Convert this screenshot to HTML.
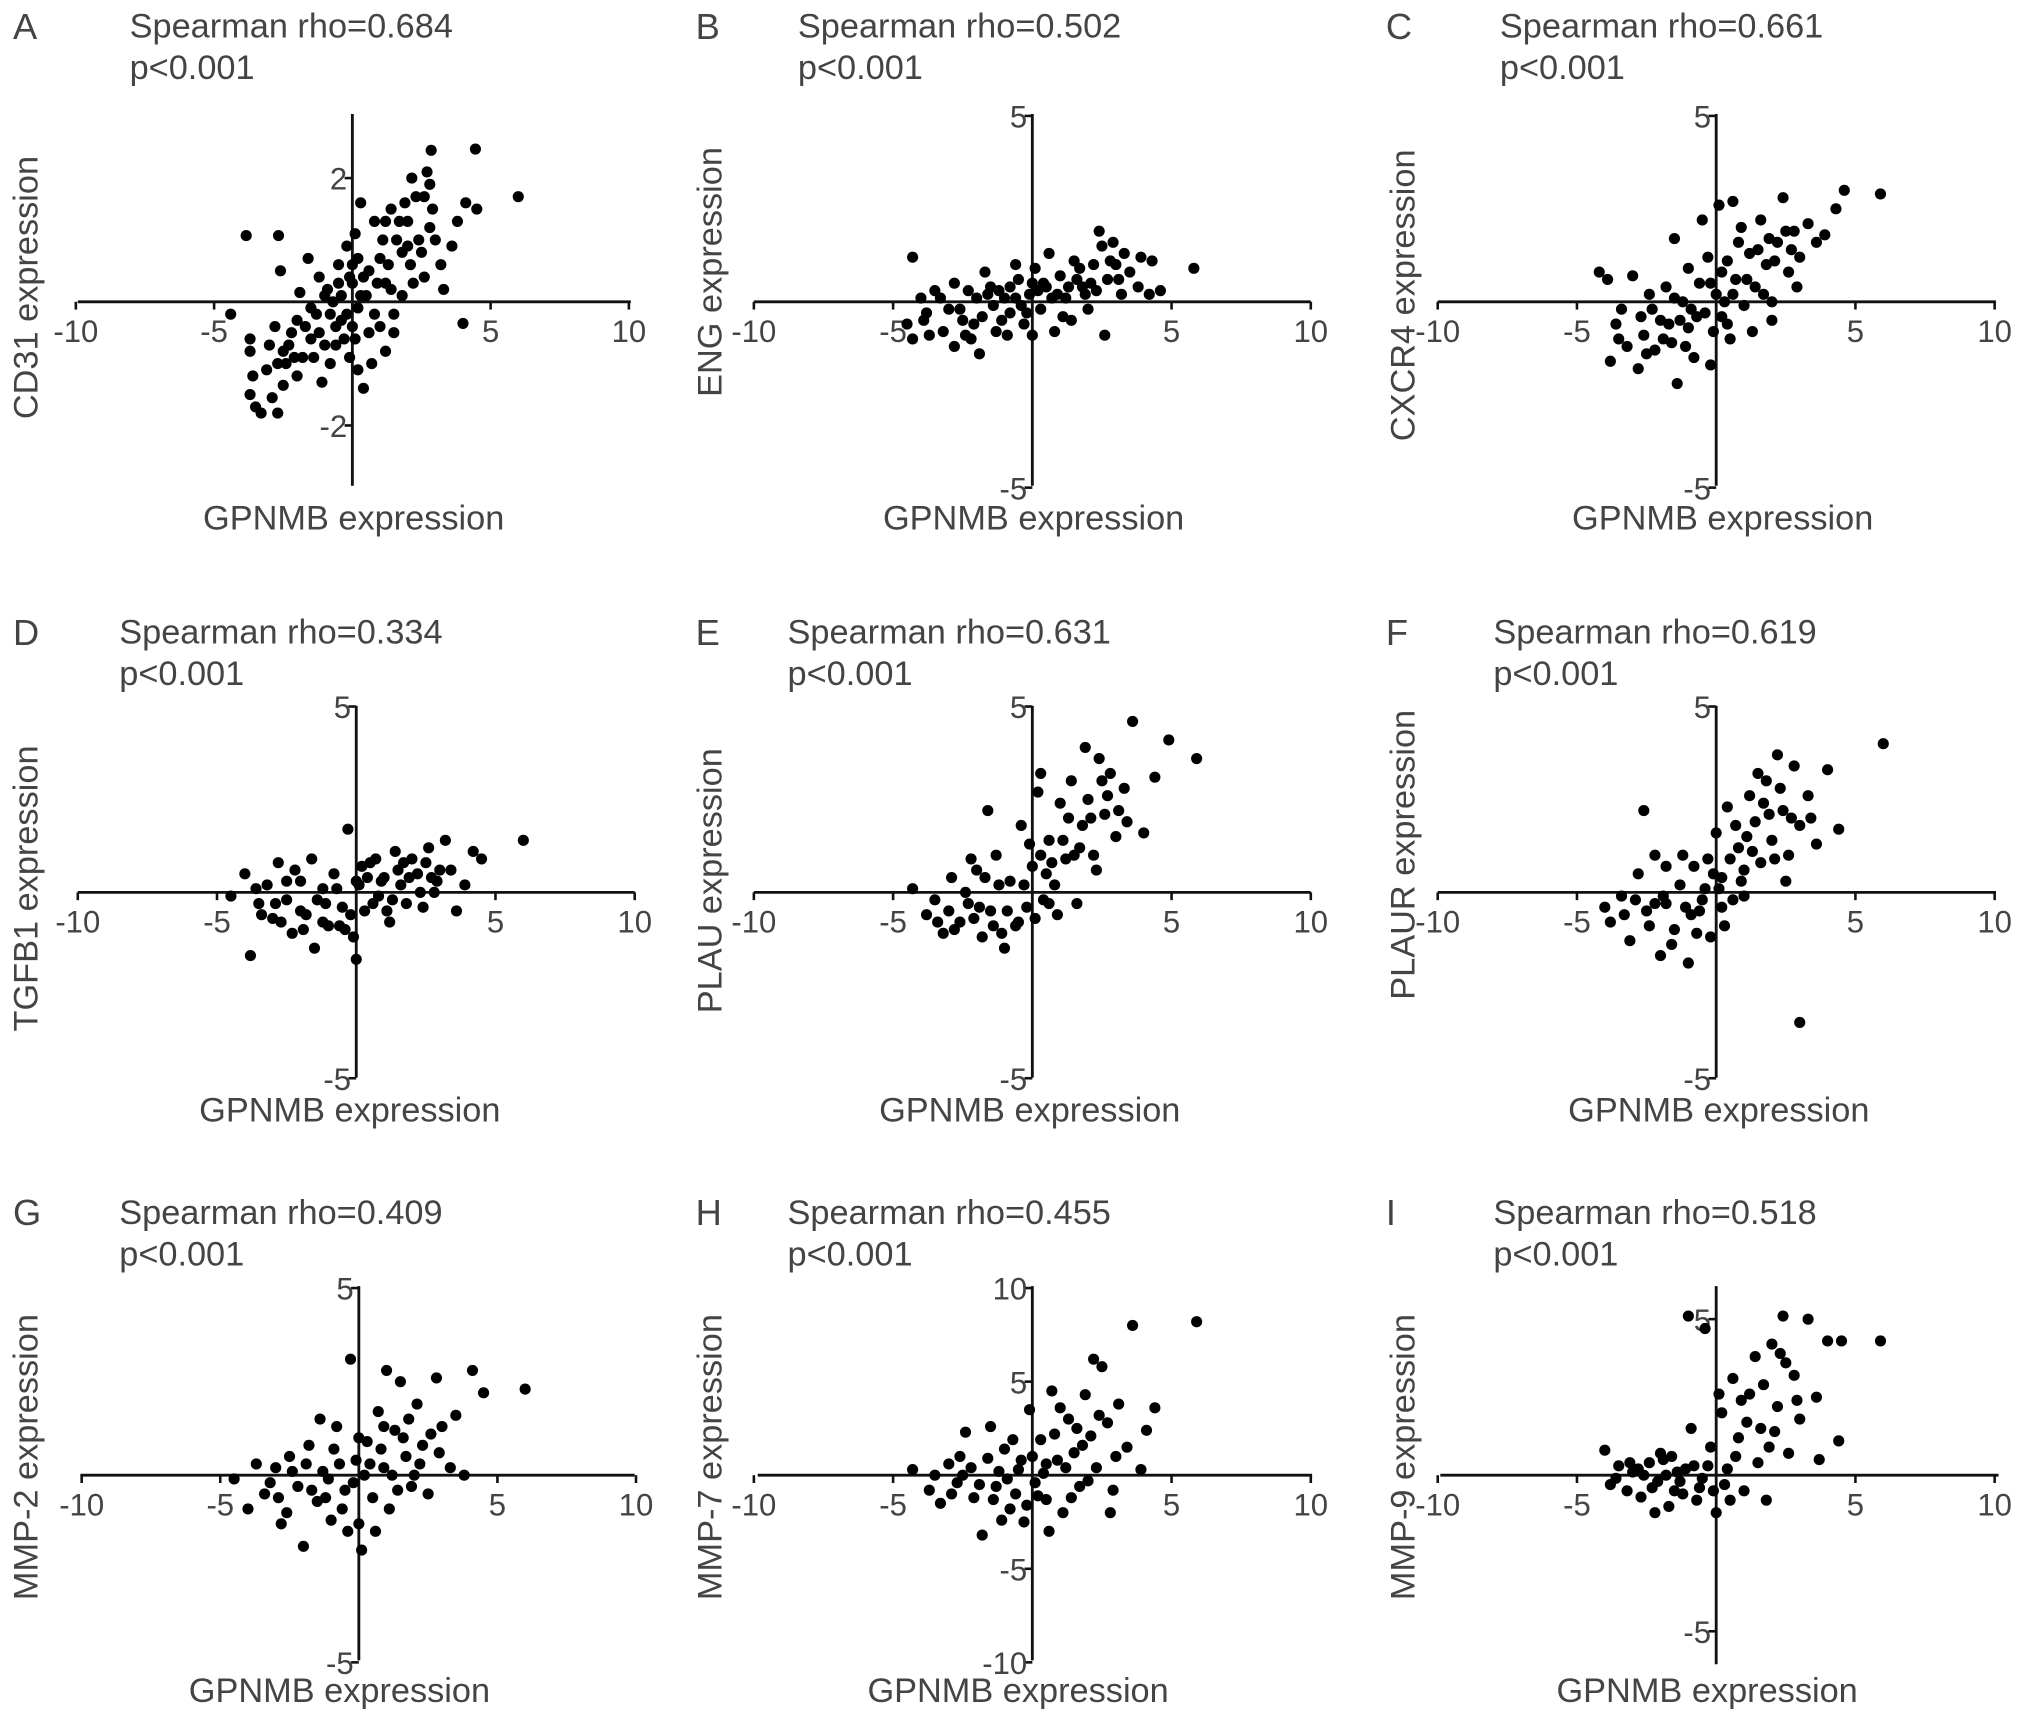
<!DOCTYPE html>
<html><head><meta charset="utf-8"><style>
html,body{margin:0;padding:0;background:#fff;}
svg{display:block;}
text{font-family:"Liberation Sans",sans-serif;fill:#444;}
</style></head><body>
<svg id="fig" width="2031" height="1720" viewBox="0 0 1568 1328" xmlns="http://www.w3.org/2000/svg"></svg>
<script>
const aPoints=[[-4.4,-0.2],[-3.84,1.07],[-2.67,1.07],[4.45,2.47],[6.0,1.7],[2.15,2.0],[2.85,2.45],[4.0,-0.35],[-3.7,-0.6],[-3.7,-0.8],[-3.6,-1.2],[-3.7,-1.5],[-3.5,-1.7],[-3.3,-1.8],[-2.7,-1.8],[-2.9,-1.55],[-2.5,-1.35],[-2.4,-1.0],[-3.0,-0.7],[-2.8,-0.4],[-2.5,-0.8],[-2.2,-0.5],[-2.0,-0.3],[-1.8,-0.9],[-1.5,-0.6],[-1.3,-0.2],[-1.0,-0.7],[-0.8,-1.0],[-0.6,-0.4],[-0.4,0.1],[-0.2,-0.2],[0,0.3],[0.2,-0.1],[0.4,0.4],[-1.6,0.7],[-1.2,0.4],[-0.9,0.2],[-2.6,0.5],[-1.9,0.15],[-0.5,0.6],[-0.2,0.9],[0.1,1.1],[0.3,1.6],[0.2,0.7],[0.6,-0.5],[0.7,-1.0],[0.4,-1.4],[1.2,-0.8],[1.0,-0.4],[1.5,-0.2],[1.8,0.1],[2.2,0.3],[2.6,0.4],[1.3,0.6],[1.8,0.8],[1.1,1.0],[1.6,1.0],[2.0,1.3],[2.4,1.0],[1.9,1.6],[2.6,1.7],[2.8,1.9],[2.9,1.5],[3.2,0.6],[3.0,1.0],[2.5,0.8],[1.4,1.5],[0.8,1.3],[3.8,1.3],[4.1,1.6],[4.5,1.5],[3.6,0.9],[0.5,0.1],[-0.3,-0.6],[-1.1,-1.3],[0.9,0.3],[1.5,-0.5],[3.3,0.2],[-0.7,0.0],[0.0,-0.4],[-1.5,-0.1],[-2.1,-0.9],[-0.1,0.4],[0.3,0.1],[-0.4,-0.3],[0.1,-0.6],[-0.8,-0.2],[-1.2,-0.5],[-1.7,-0.4],[-2.3,-0.7],[-2.7,-1.0],[-3.1,-1.1],[-0.5,0.3],[0.6,0.5],[1.0,0.7],[1.4,0.2],[2.1,0.6],[2.3,1.7],[2.7,2.1],[1.7,1.3],[-0.1,-0.9],[0.2,-1.1],[-1.4,-0.9],[-2.0,-1.2],[0.8,-0.2],[1.2,0.3],[-0.6,-0.7],[0.0,0.6],[-1.0,0.1],[2.0,0.9],[2.8,1.2],[1.2,1.3]];
const bPoints=[[-4.5,-0.6],[-4.0,0.1],[-4.3,-1.0],[-3.8,-0.3],[-3.5,0.3],[-3.2,-0.8],[-3.0,-0.2],[-2.8,0.5],[-2.5,-0.5],[-2.2,-1.0],[-2.0,0.1],[-1.8,-0.4],[-1.5,0.4],[-1.3,-0.8],[-1.0,0.1],[-0.8,-0.3],[-0.5,0.6],[-0.3,-0.6],[-0.1,0.2],[0.1,0.9],[0.3,-0.2],[0.5,0.4],[0.8,-0.8],[1.0,0.7],[1.2,0.1],[1.5,1.1],[1.8,0.4],[2.0,-0.2],[2.2,1.0],[2.5,1.5],[2.7,0.6],[3.0,1.0],[3.2,0.2],[3.5,0.8],[4.3,1.1],[4.2,0.2],[5.8,0.9],[2.4,1.9],[3.8,0.4],[2.6,-0.9],[1.4,-0.5],[0.6,1.3],[-0.6,1.0],[-1.7,0.8],[-4.3,1.2],[-2.8,-1.2],[-1.9,-1.4],[-3.7,-0.9],[0.0,-0.9],[1.7,0.9],[2.9,1.6],[3.3,1.3],[1.1,-0.4],[-0.8,0.4],[0.4,0.5],[-2.3,0.3],[-1.1,-0.5],[2.1,0.5],[4.6,0.3],[3.9,1.2],[-0.4,-0.1],[0.7,0.1],[-2.6,-0.2],[-1.4,-0.1],[-0.2,-0.3],[0.2,0.3],[1.3,0.4],[1.9,0.2],[-3.3,0.1],[-2.1,-0.6],[-0.9,-0.9],[0.9,0.2],[2.3,0.3],[3.1,0.6],[-1.6,0.2],[-0.6,0.1],[0.0,0.5],[1.6,0.6],[2.8,1.1],[-3.9,-0.5],[-2.4,-0.9],[-1.2,0.3]];
const cPoints=[[-4.2,0.8],[-3.9,0.6],[-3.8,-1.6],[-3.6,-0.6],[-3.4,-0.2],[-3.0,0.7],[-2.8,-1.8],[-2.6,-0.9],[-2.4,0.2],[-2.2,-1.3],[-2.0,-0.5],[-1.8,0.4],[-1.6,-1.1],[-1.4,-2.2],[-1.2,0.0],[-1.0,-0.7],[-0.8,-1.5],[-0.6,0.5],[-0.4,-0.3],[-0.2,-1.7],[0.0,0.2],[0.2,-0.4],[0.4,1.1],[0.5,-1.0],[0.7,0.6],[0.9,2.0],[1.0,-0.1],[1.2,1.3],[1.4,0.4],[1.6,2.2],[1.8,1.0],[2.0,0.0],[2.2,1.6],[2.4,2.8],[2.6,0.8],[2.8,1.9],[3.0,1.2],[3.3,2.1],[3.6,1.6],[3.9,1.8],[4.3,2.5],[4.6,3.0],[5.9,2.9],[-1.5,1.7],[-0.5,2.2],[0.1,2.6],[0.6,2.7],[2.0,-0.5],[1.3,-0.8],[-3.2,-1.2],[-1.0,0.9],[0.3,0.0],[-2.3,-0.2],[1.7,0.2],[2.9,0.4],[-0.3,1.2],[-1.7,-0.6],[-0.9,-0.2],[-2.7,-0.4],[-1.9,-1.0],[-1.1,-1.2],[-0.1,-0.8],[0.6,0.2],[1.1,0.6],[1.5,1.4],[2.1,1.1],[2.5,1.9],[-0.7,-0.4],[-1.5,0.1],[-2.5,-1.4],[-3.5,-1.0],[0.2,0.8],[0.8,1.6],[1.9,1.7],[2.7,1.4],[-0.2,0.5],[-1.3,-0.5],[0.4,-0.6]];
const dPoints=[[-4.5,-0.1],[-4.0,0.5],[-3.8,-1.7],[-3.5,-0.3],[-3.2,0.2],[-3.0,-0.7],[-2.8,0.8],[-2.5,-0.2],[-2.3,-1.1],[-2.0,0.3],[-1.8,-0.6],[-1.5,-1.5],[-1.2,0.1],[-1.0,-0.9],[-0.8,0.5],[-0.5,-0.4],[-0.3,1.7],[-0.1,-1.2],[0.1,0.2],[0.3,-0.5],[0.5,0.8],[0.8,-0.1],[1.0,0.4],[1.2,-0.8],[1.4,1.1],[1.6,0.2],[1.8,-0.3],[2.0,0.9],[2.2,0.5],[2.4,-0.4],[2.6,1.2],[2.9,0.3],[3.2,1.4],[3.4,0.6],[3.6,-0.5],[4.2,1.1],[4.5,0.9],[6.0,1.4],[-1.6,0.9],[-2.7,-0.8],[0.0,-1.8],[-0.6,-0.9],[1.5,0.6],[2.8,0.0],[-3.4,-0.6],[-1.1,-0.3],[0.6,-0.3],[3.9,0.2],[-2.2,0.6],[0.4,0.4],[-3.6,0.1],[-2.9,-0.3],[-2.0,-0.5],[-1.4,-0.2],[-0.7,0.1],[-0.2,-0.6],[0.2,0.7],[0.9,0.3],[1.3,-0.2],[1.9,0.4],[2.5,0.8],[3.0,0.6],[-1.9,-1.0],[-0.4,-1.0],[0.7,0.9],[1.7,0.8],[2.3,0.0],[-2.5,0.3],[-1.2,-0.8],[0.0,0.3],[1.1,-0.5],[2.7,0.4]];
const ePoints=[[-4.3,0.1],[-3.8,-0.6],[-3.5,-0.2],[-3.2,-1.1],[-2.9,0.4],[-2.6,-0.8],[-2.3,-0.3],[-2.0,0.6],[-1.8,-1.2],[-1.5,-0.5],[-1.3,1.0],[-1.0,-1.5],[-0.8,0.3],[-0.6,-0.9],[-0.4,1.8],[-0.2,-0.4],[0.0,0.7],[0.2,2.7],[0.4,-0.2],[0.6,1.4],[0.8,0.2],[1.0,2.4],[1.2,0.9],[1.4,3.0],[1.6,-0.3],[1.8,1.8],[2.0,2.5],[2.2,1.0],[2.4,3.6],[2.6,2.1],[2.8,3.2],[3.0,1.5],[3.3,2.8],[3.6,4.6],[4.0,1.6],[4.4,3.1],[4.9,4.1],[5.9,3.6],[-1.6,2.2],[-2.2,0.9],[0.3,3.2],[1.5,1.0],[2.3,0.6],[-0.5,-0.8],[-1.2,0.2],[0.9,-0.6],[3.1,2.2],[1.9,3.9],[-3.0,-0.5],[-1.9,-0.4],[0.5,0.5],[-3.4,-0.8],[-2.8,-1.0],[-2.1,-0.7],[-1.4,-0.9],[-0.9,-0.5],[-0.3,0.2],[0.1,-0.7],[0.7,0.8],[1.1,1.4],[1.7,1.2],[2.1,2.0],[2.7,2.6],[-2.4,0.0],[-1.1,-1.1],[0.3,1.0],[1.3,2.0],[2.5,3.0],[3.4,1.9],[-0.1,1.3],[-1.7,0.4],[0.6,-0.3]];
const fPoints=[[-4.0,-0.4],[-3.8,-0.8],[-3.4,-0.1],[-3.1,-1.3],[-2.8,0.5],[-2.5,-0.5],[-2.2,1.0],[-2.0,-1.7],[-1.8,-0.3],[-1.5,-1.0],[-1.3,0.2],[-1.0,-1.9],[-0.8,0.7],[-0.6,-0.5],[-0.4,0.1],[-0.2,-1.2],[0.0,1.6],[0.2,0.4],[0.4,2.3],[0.6,-0.2],[0.8,1.2],[1.0,0.6],[1.2,2.6],[1.4,1.9],[1.6,0.8],[1.8,3.0],[2.0,1.4],[2.2,3.7],[2.4,2.2],[2.6,1.0],[2.8,3.4],[3.0,1.8],[3.3,2.6],[3.6,1.3],[4.0,3.3],[4.4,1.7],[6.0,4.0],[3.0,-3.5],[-2.6,2.2],[-1.2,1.0],[0.3,-0.9],[1.5,3.2],[2.5,0.3],[-0.3,0.9],[1.1,1.5],[-1.8,0.7],[-2.9,-0.2],[-0.9,-0.6],[-3.3,-0.6],[-2.4,-0.9],[-1.9,-0.1],[-1.1,-0.4],[-0.5,-0.2],[0.1,0.1],[0.5,0.9],[0.9,0.3],[1.3,1.1],[1.9,2.1],[2.3,2.8],[2.7,2.0],[-1.6,-1.4],[-0.7,-1.1],[0.2,-0.4],[0.7,1.8],[1.7,2.4],[3.4,2.0],[-2.2,-0.3],[-0.1,0.5],[1.0,-0.1],[2.1,0.9]];
const gPoints=[[-4.5,-0.1],[-4.0,-0.9],[-3.7,0.3],[-3.4,-0.5],[-3.0,0.2],[-2.8,-1.3],[-2.5,0.5],[-2.2,-0.3],[-2.0,-1.9],[-1.8,0.8],[-1.5,-0.7],[-1.3,0.1],[-1.0,-1.2],[-0.8,1.3],[-0.5,-0.4],[-0.3,3.1],[-0.1,0.4],[0.1,-2.0],[0.3,0.9],[0.5,-0.6],[0.7,1.7],[0.9,0.2],[1.1,-0.9],[1.3,1.2],[1.5,2.5],[1.7,0.5],[1.9,-0.3],[2.1,1.9],[2.3,0.8],[2.5,-0.5],[2.8,2.6],[3.0,1.3],[3.3,0.2],[3.5,1.6],[4.1,2.8],[4.5,2.2],[6.0,2.3],[-1.4,1.5],[0.0,-1.3],[1.0,2.8],[2.0,0.0],[-2.6,-1.0],[-0.7,0.3],[0.6,-1.5],[3.8,0.0],[1.6,1.0],[-1.1,-0.1],[0.2,0.0],[-3.2,-0.2],[-2.4,0.1],[-1.7,-0.4],[-1.2,-0.6],[-0.6,-0.9],[-0.2,-0.2],[0.4,0.3],[0.8,0.7],[1.2,0.0],[1.8,1.5],[2.2,0.3],[2.6,1.1],[-1.9,0.3],[-0.9,0.7],[0.0,1.0],[1.4,-0.4],[2.9,0.6],[-2.9,-0.6],[-0.4,-1.5],[0.9,1.3]];
const hPoints=[[-4.3,0.3],[-3.7,-0.8],[-3.3,-1.5],[-3.0,0.6],[-2.7,-0.4],[-2.4,2.3],[-2.1,-1.2],[-1.8,-3.2],[-1.6,0.9],[-1.3,-0.6],[-1.0,1.4],[-0.8,-1.8],[-0.5,0.3],[-0.3,-2.5],[-0.1,3.5],[0.1,-0.4],[0.3,1.9],[0.5,-1.3],[0.7,4.5],[0.9,0.8],[1.1,-2.0],[1.3,3.0],[1.5,1.2],[1.7,-0.6],[1.9,4.3],[2.1,2.1],[2.3,0.4],[2.5,5.8],[2.7,2.8],[2.9,-0.8],[3.1,3.8],[3.4,1.5],[3.6,8.0],[3.9,0.3],[4.4,3.6],[5.9,8.2],[-1.5,2.6],[0.0,1.0],[1.6,2.5],[2.2,6.2],[-2.5,0.0],[0.6,-3.0],[2.8,-2.0],[4.1,2.4],[-0.6,-1.0],[-1.2,0.2],[0.4,0.1],[-3.5,0.0],[-2.9,-1.0],[-2.2,0.4],[-1.9,-0.5],[-1.4,-1.3],[-0.9,-0.2],[-0.4,0.8],[0.2,-1.1],[0.8,2.2],[1.2,0.4],[1.8,1.6],[2.4,3.2],[3.0,1.0],[-1.1,-2.4],[-0.2,-1.6],[0.5,0.6],[1.4,-1.2],[2.0,-0.3],[-2.6,1.0],[-0.7,1.9],[1.0,3.6]];
const iPoints=[[-4.0,0.8],[-3.8,-0.3],[-3.5,0.3],[-3.2,-0.5],[-3.0,0.1],[-2.7,-0.7],[-2.4,0.4],[-2.1,-0.2],[-1.9,0.5],[-1.7,-1.0],[-1.4,0.1],[-1.2,-0.6],[-1.0,5.1],[-0.8,0.3],[-0.6,-0.4],[-0.4,4.7],[-0.2,0.9],[0.0,-1.2],[0.2,2.0],[0.4,0.2],[0.6,3.1],[0.8,1.2],[1.0,-0.5],[1.2,2.6],[1.4,3.8],[1.6,1.5],[1.8,-0.8],[2.0,4.2],[2.2,2.2],[2.4,5.1],[2.6,0.7],[2.8,3.2],[3.0,1.8],[3.3,5.0],[3.6,2.5],[4.0,4.3],[4.4,1.1],[4.5,4.3],[5.9,4.3],[-2.2,-1.2],[-0.9,1.5],[0.5,-0.8],[1.5,0.4],[2.5,3.6],[-1.6,0.6],[0.1,2.6],[3.7,0.5],[-2.6,0.0],[-0.5,-0.1],[-3.6,-0.1],[-3.1,0.4],[-2.8,0.2],[-2.3,-0.4],[-1.8,0.0],[-1.5,-0.5],[-1.1,0.2],[-0.7,-0.8],[-0.3,0.3],[0.3,-0.3],[0.7,0.6],[1.1,1.7],[1.7,2.9],[2.1,1.4],[2.3,3.9],[2.9,2.4],[-2.0,0.7],[-1.3,-0.2],[-0.1,-0.5],[0.9,2.4],[1.9,0.9]];
const panelLetters=["A","B","C","D","E","F","G","H","I"];
const rhoValues=["0.684","0.502","0.661","0.334","0.631","0.619","0.409","0.455","0.518"];
const yLabels=["CD31 expression","ENG expression","CXCR4 expression","TGFB1 expression","PLAU expression","PLAUR expression","MMP-2 expression","MMP-7 expression","MMP-9 expression"];
const xTicks=[-10,-5,5,10];
const yTicksList=[[2,-2],[5,-5],[5,-5],[5,-5],[5,-5],[5,-5],[5,-5],[10,5,-5,-10],[5,-5]];
const pointSets=[aPoints,bPoints,cPoints,dPoints,ePoints,fPoints,gPoints,hPoints,iPoints];

const layout=[
 {x0:272,y0:233,sx:21.35,sy:47.75,xa:[60,487],ya:[88,375],lx:10,tx:100,ty:20,xl:273,xly:400,yl:[20,222]},
 {x0:797,y0:233,sx:21.5,sy:28.7,xa:[582,1012],ya:[88,375],lx:537,tx:616,ty:20,xl:798,xly:400,yl:[548,210]},
 {x0:1325,y0:233,sx:21.5,sy:28.7,xa:[1110,1541],ya:[88,375],lx:1070,tx:1158,ty:20,xl:1330,xly:400,yl:[1083,228]},
 {x0:275,y0:689,sx:21.5,sy:28.7,xa:[60,490],ya:[545,832],lx:10,tx:92,ty:488,xl:270,xly:857,yl:[20,686]},
 {x0:797,y0:689,sx:21.5,sy:28.7,xa:[582,1012],ya:[545,832],lx:537,tx:608,ty:488,xl:795,xly:857,yl:[548,680]},
 {x0:1325,y0:689,sx:21.5,sy:28.7,xa:[1110,1541],ya:[545,832],lx:1070,tx:1153,ty:488,xl:1327,xly:857,yl:[1083,660]},
 {x0:277,y0:1139,sx:21.4,sy:28.9,xa:[62,490],ya:[993,1282],lx:10,tx:92,ty:936,xl:262,xly:1305,yl:[20,1125]},
 {x0:797,y0:1139,sx:21.5,sy:14.45,xa:[585,1013],ya:[993,1282],lx:537,tx:608,ty:936,xl:786,xly:1305,yl:[548,1125]},
 {x0:1325,y0:1139,sx:21.5,sy:24.1,xa:[1112,1543],ya:[993,1285],lx:1070,tx:1153,ty:936,xl:1318,xly:1305,yl:[1083,1125]}
];
const NS="http://www.w3.org/2000/svg";
const svg=document.getElementById('fig');
function mk(tag,attrs,parent){const e=document.createElementNS(NS,tag);for(const k in attrs)e.setAttribute(k,attrs[k]);parent.appendChild(e);return e;}
layout.forEach((L,i)=>{
 const g=mk('g',{},svg);
 
 
 const X=v=>L.x0+v*L.sx, Y=v=>L.y0-v*L.sy;
 let t=mk('text',{x:L.lx,y:L.ty+10,'font-size':28},g);t.textContent=panelLetters[i];
 
 
 t=mk('text',{x:L.tx,y:L.ty+9,'font-size':26.5},g);t.textContent='Spearman rho='+rhoValues[i];
 
 
 t=mk('text',{x:L.tx,y:L.ty+41,'font-size':26.5},g);t.textContent='p<0.001';
 
 
 let ln=mk('line',{x1:L.xa[0],x2:L.xa[1],y1:L.y0,y2:L.y0,stroke:'#111','stroke-width':2.2},g);
 
 
 ln=mk('line',{x1:L.x0,x2:L.x0,y1:L.ya[0],y2:L.ya[1],stroke:'#111','stroke-width':2.2},g);
 
 
 xTicks.forEach(v=>{
  mk('line',{x1:X(v),x2:X(v),y1:L.y0,y2:L.y0+6,stroke:'#111','stroke-width':2},g);
  const tt=mk('text',{x:X(v),y:L.y0+31,'font-size':24,'text-anchor':'middle'},g);tt.textContent=v;
  
  
 });
 yTicksList[i].forEach(v=>{
  mk('line',{x1:L.x0-6,x2:L.x0,y1:Y(v),y2:Y(v),stroke:'#111','stroke-width':2},g);
  const tt=mk('text',{x:L.x0-4,y:Y(v)+9,'font-size':24,'text-anchor':'end'},g);tt.textContent=v;
  
  
 });
 t=mk('text',{x:L.xl,y:L.xly+9,'font-size':26.5,'text-anchor':'middle'},g);t.textContent='GPNMB expression';
 
 
 t=mk('text',{x:0,y:0,'font-size':26.5,'text-anchor':'middle',transform:`translate(${L.yl[0]+9},${L.yl[1]}) rotate(-90)`},g);t.textContent=yLabels[i];
 
 
 pointSets[i].forEach(p=>{
  const c=mk('circle',{cx:X(p[0]),cy:Y(p[1]),r:4.3,fill:'#000'},g);
  
  
 });
});
</script>
</body></html>
